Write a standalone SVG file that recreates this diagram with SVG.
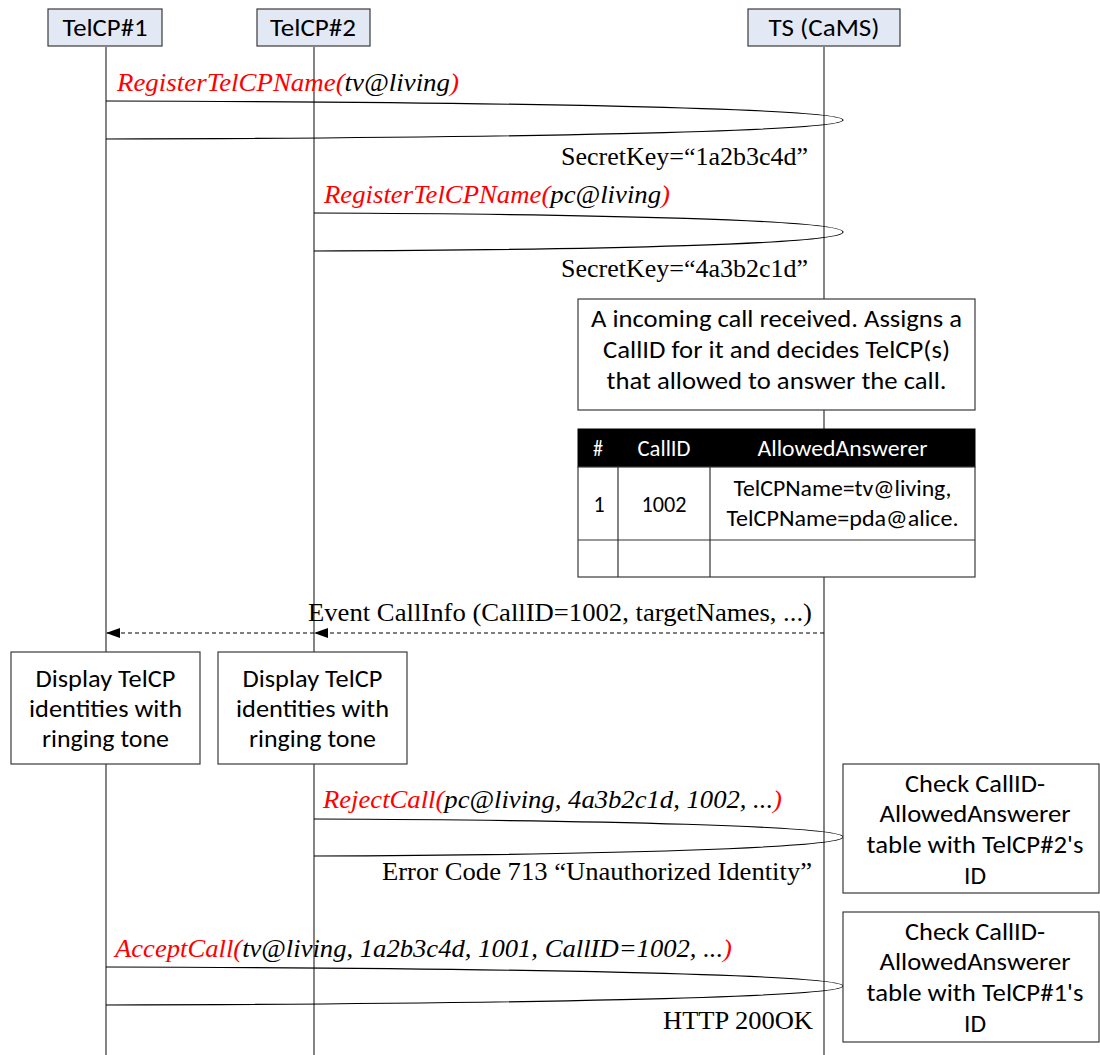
<svg xmlns="http://www.w3.org/2000/svg" width="1100" height="1055" viewBox="0 0 1100 1055">
<style>
.box{fill:#fff;stroke:#3a3a3a;stroke-width:1.2}
.hdr{fill:#e2e9f5;stroke:#3a3a3a;stroke-width:1.2}
.life{stroke:#333;stroke-width:1.2;fill:none}
.msg{stroke:#000;stroke-width:1.2;fill:none}
.sans{font-family:Carlito,Lato,"Liberation Sans",sans-serif;fill:#000;text-anchor:middle}
.s23{font-size:25px}
.s21{font-size:22px}
.tnr{font-family:"Liberation Serif","Times New Roman",serif;font-size:25px;fill:#000}
.it{font-style:italic}
.red{fill:#ff0000}
.end{text-anchor:end}
.wh{fill:#fff}
</style>
<defs>
<marker id="ah" markerWidth="14" markerHeight="10" refX="14" refY="5" orient="auto" markerUnits="userSpaceOnUse">
<path d="M0,0 L14,5 L0,10 Z" fill="#000"/>
</marker>
</defs>

<g id="lifelines">
<line class="life" x1="106" y1="47" x2="106" y2="1055"/>
<line class="life" x1="314" y1="47" x2="314" y2="1055"/>
<line class="life" x1="824" y1="47" x2="824" y2="1055"/>
</g>

<g id="TelCP1">
<rect class="hdr" x="48" y="9" width="114" height="37"/>
<text class="sans s23" x="105" y="36" textLength="85" lengthAdjust="spacingAndGlyphs">TelCP#1</text>
</g>
<g id="TelCP2">
<rect class="hdr" x="257" y="9" width="113" height="37"/>
<text class="sans s23" x="313" y="36" textLength="86" lengthAdjust="spacingAndGlyphs">TelCP#2</text>
</g>
<g id="TS">
<rect class="hdr" x="748" y="9" width="152" height="37"/>
<text class="sans s23" x="824" y="36" textLength="111" lengthAdjust="spacingAndGlyphs">TS (CaMS)</text>
</g>

<g id="connectors">
<path class="msg" d="M106,101 C500,102 843,108 843,120 C843,132 500,138 106,139"/>
<path class="msg" d="M314,213 C600,214 843,220 843,232 C843,244 600,250 314,251"/>
<line class="msg" x1="824" y1="633" x2="314" y2="633" stroke-dasharray="4,3" marker-end="url(#ah)"/>
<line class="msg" x1="314" y1="633" x2="106" y2="633" stroke-dasharray="4,3" marker-end="url(#ah)"/>
<path class="msg" d="M314,819 C600,820 843,826 843,837 C843,848 600,855 314,856"/>
<path class="msg" d="M106,967 C500,968 843,974 843,986 C843,998 500,1004 106,1005"/>
</g>

<g id="labels">
<text class="tnr it" x="117" y="91" textLength="342" lengthAdjust="spacingAndGlyphs"><tspan class="red">RegisterTelCPName(</tspan>tv@living<tspan class="red">)</tspan></text>
<text class="tnr end" x="808" y="165" textLength="247" lengthAdjust="spacingAndGlyphs">SecretKey=“1a2b3c4d”</text>
<text class="tnr it" x="324" y="203" textLength="346" lengthAdjust="spacingAndGlyphs"><tspan class="red">RegisterTelCPName(</tspan>pc@living<tspan class="red">)</tspan></text>
<text class="tnr end" x="808" y="277" textLength="247" lengthAdjust="spacingAndGlyphs">SecretKey=“4a3b2c1d”</text>
<text class="tnr end" x="812" y="621" textLength="504" lengthAdjust="spacingAndGlyphs">Event CallInfo (CallID=1002, targetNames, ...)</text>
<text class="tnr it" x="323" y="808" textLength="459" lengthAdjust="spacingAndGlyphs"><tspan class="red">RejectCall(</tspan>pc@living, 4a3b2c1d, 1002, ...<tspan class="red">)</tspan></text>
<text class="tnr end" x="812" y="880" textLength="430" lengthAdjust="spacingAndGlyphs">Error Code 713 “Unauthorized Identity”</text>
<text class="tnr it" x="115" y="957" textLength="617" lengthAdjust="spacingAndGlyphs"><tspan class="red">AcceptCall(</tspan>tv@living, 1a2b3c4d, 1001, CallID=1002, ...<tspan class="red">)</tspan></text>
<text class="tnr end" x="813" y="1029" textLength="150" lengthAdjust="spacingAndGlyphs">HTTP 200OK</text>
</g>

<g id="note">
<rect class="box" x="578" y="299" width="397" height="111"/>
<text class="sans s23" x="776.5" y="327" textLength="371" lengthAdjust="spacingAndGlyphs">A incoming call received. Assigns a</text>
<text class="sans s23" x="776.5" y="358" textLength="347" lengthAdjust="spacingAndGlyphs">CallID for it and decides TelCP(s)</text>
<text class="sans s23" x="776.5" y="389" textLength="340" lengthAdjust="spacingAndGlyphs">that allowed to answer the call.</text>
</g>

<g id="table">
<rect x="578" y="429" width="397" height="38" fill="#000" stroke="#000"/>
<rect class="box" x="578" y="467" width="397" height="110"/>
<line class="life" x1="578" y1="540" x2="975" y2="540"/>
<line class="life" x1="618" y1="467" x2="618" y2="577"/>
<line class="life" x1="710" y1="467" x2="710" y2="577"/>
<text class="sans s21 wh" x="598" y="456" textLength="10" lengthAdjust="spacingAndGlyphs">#</text>
<text class="sans s21 wh" x="664" y="456" textLength="53" lengthAdjust="spacingAndGlyphs">CallID</text>
<text class="sans s21 wh" x="842.5" y="456" textLength="170" lengthAdjust="spacingAndGlyphs">AllowedAnswerer</text>
<text class="sans s21" x="599" y="512">1</text>
<text class="sans s21" x="664" y="512" textLength="45" lengthAdjust="spacingAndGlyphs">1002</text>
<text class="sans s21" x="842.5" y="496" textLength="218" lengthAdjust="spacingAndGlyphs">TelCPName=tv@living,</text>
<text class="sans s21" x="842.5" y="526" textLength="232" lengthAdjust="spacingAndGlyphs">TelCPName=pda@alice.</text>
</g>

<g id="display1">
<rect class="box" x="11" y="652" width="189" height="112"/>
<text class="sans s23" x="105.5" y="687" textLength="140" lengthAdjust="spacingAndGlyphs">Display TelCP</text>
<text class="sans s23" x="105.5" y="717" textLength="153" lengthAdjust="spacingAndGlyphs">identities with</text>
<text class="sans s23" x="105.5" y="747" textLength="127" lengthAdjust="spacingAndGlyphs">ringing tone</text>
</g>
<g id="display2">
<rect class="box" x="218" y="652" width="189" height="112"/>
<text class="sans s23" x="312.5" y="687" textLength="140" lengthAdjust="spacingAndGlyphs">Display TelCP</text>
<text class="sans s23" x="312.5" y="717" textLength="153" lengthAdjust="spacingAndGlyphs">identities with</text>
<text class="sans s23" x="312.5" y="747" textLength="127" lengthAdjust="spacingAndGlyphs">ringing tone</text>
</g>

<g id="check2">
<rect class="box" x="843" y="764" width="256" height="129"/>
<text class="sans s23" x="975" y="792" textLength="140" lengthAdjust="spacingAndGlyphs">Check CallID-</text>
<text class="sans s23" x="975" y="822" textLength="191" lengthAdjust="spacingAndGlyphs">AllowedAnswerer</text>
<text class="sans s23" x="975" y="853" textLength="217" lengthAdjust="spacingAndGlyphs">table with TelCP#2's</text>
<text class="sans s23" x="975" y="884" textLength="22" lengthAdjust="spacingAndGlyphs">ID</text>
</g>
<g id="check1">
<rect class="box" x="843" y="912" width="256" height="130"/>
<text class="sans s23" x="975" y="940" textLength="140" lengthAdjust="spacingAndGlyphs">Check CallID-</text>
<text class="sans s23" x="975" y="970" textLength="191" lengthAdjust="spacingAndGlyphs">AllowedAnswerer</text>
<text class="sans s23" x="975" y="1001" textLength="217" lengthAdjust="spacingAndGlyphs">table with TelCP#1's</text>
<text class="sans s23" x="975" y="1032" textLength="22" lengthAdjust="spacingAndGlyphs">ID</text>
</g>
</svg>
